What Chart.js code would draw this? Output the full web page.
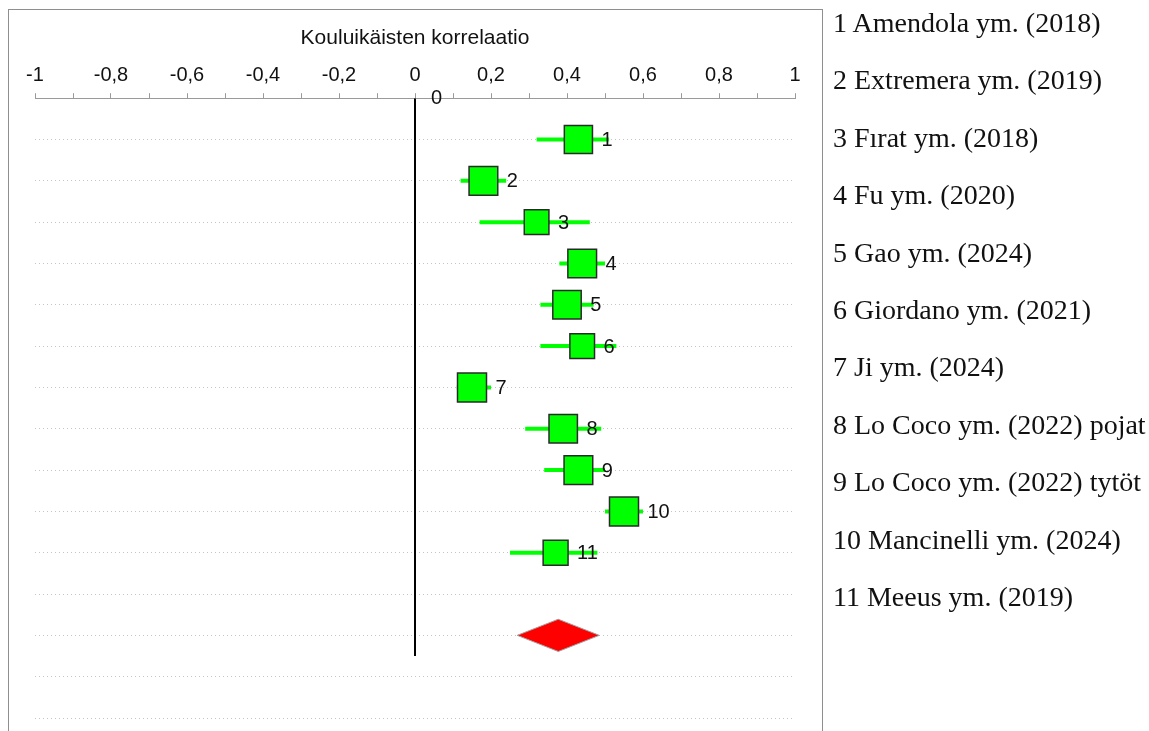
<!DOCTYPE html>
<html>
<head>
<meta charset="utf-8">
<script src="https://cdn.jsdelivr.net/npm/chart.js@4.4.0/dist/chart.umd.min.js"></script>
<style>
    html, body { margin: 0; padding: 0; background: #fff; }
    body { width: 1149px; height: 731px; position: relative; overflow: hidden; }
    #frame { position: absolute; left: 8px; top: 9px; width: 813px; height: 760px; border: 1px solid #8f8f8f; border-bottom: none; }
    #forest { position: absolute; left: 0; top: 0; }
    .legend div { position: absolute; left: 833px; font-family: "Liberation Serif", "Times New Roman", serif; font-size: 28px; line-height: 34px; color: #111; white-space: nowrap; }
</style>
</head>
<body>
<div id="frame"></div>
<canvas id="forest" width="1149" height="731"></canvas>
<div class="legend" id="legend"></div>
<script>
// tutkimukset (rivit 1..11)
const studyNo = ['1', '2', '3', '4', '5', '6', '7', '8', '9', '10', '11'];
const studyNames = [
    'Amendola ym. (2018)', 'Extremera ym. (2019)', 'Fırat ym. (2018)', 'Fu ym. (2020)',
    'Gao ym. (2024)', 'Giordano ym. (2021)', 'Ji ym. (2024)', 'Lo Coco ym. (2022) pojat',
    'Lo Coco ym. (2022) tytöt', 'Mancinelli ym. (2024)', 'Meeus ym. (2019)'
];
const studyEst = [0.43, 0.18, 0.32, 0.44, 0.40, 0.44, 0.15, 0.39, 0.43, 0.55, 0.37];
const studyLo  = [0.32, 0.12, 0.17, 0.38, 0.33, 0.33, 0.11, 0.29, 0.34, 0.50, 0.25];
const studyHi  = [0.51, 0.24, 0.46, 0.50, 0.47, 0.53, 0.20, 0.49, 0.50, 0.60, 0.48];
const studyWeight = [0.97, 0.99, 0.85, 0.99, 0.98, 0.85, 1.0, 0.98, 0.99, 1.0, 0.86];

// yhdistetty estimaatti
const pooledEst = 0.377;
const pooledLo = 0.269;
const pooledHi = 0.485;
const pooledRow = 13;

const xTicks = [-1, -0.8, -0.6, -0.4, -0.2, 0, 0.2, 0.4, 0.6, 0.8, 1];

const boxSide = 29;       // px, suurin neliö
const diamondHalf = 0.39; // riviä

// legenda oikealle
const legendEl = document.getElementById('legend');
studyNames.forEach((name, i) => {
    const d = document.createElement('div');
    d.textContent = studyNo[i] + ' ' + name;
    d.style.top = (23 + i * 57.4 - 17) + 'px';
    legendEl.appendChild(d);
});

const errorSets = studyEst.map((e, i) => ({
    data: [{ x: studyLo[i], y: i + 1 }, { x: studyHi[i], y: i + 1 }],
    showLine: true,
    borderColor: '#00ff00',
    borderWidth: 4,
    pointRadius: 0,
    order: 3
}));

const markLabels = {
    id: 'markLabels',
    afterDatasetsDraw(chart) {
        const { ctx, scales: { x, y } } = chart;
        ctx.save();
        ctx.font = '20px "Liberation Sans", Arial, sans-serif';
        ctx.fillStyle = '#111';
        ctx.textBaseline = 'middle';
        studyNo.forEach((n, i) => {
            const px = x.getPixelForValue(studyEst[i]) + boxSide * studyWeight[i] / 2 + 9;
            ctx.fillText(n, px, y.getPixelForValue(i + 1) + 1);
        });
        ctx.fillText('0', x.getPixelForValue(0) + 16, y.getPixelForValue(0));
        ctx.restore();
    }
};

new Chart(document.getElementById('forest'), {
    type: 'scatter',
    data: {
        datasets: [
            {
                // nollaviiva
                data: [{ x: 0, y: 0 }, { x: 0, y: pooledRow + 0.5 }],
                showLine: true,
                borderColor: '#000',
                borderWidth: 2,
                pointRadius: 0,
                order: 5
            },
            ...errorSets,
            {
                data: studyEst.map((e, i) => ({ x: e, y: i + 1 })),
                pointStyle: 'rect',
                pointRadius: studyWeight.map(w => boxSide * w / Math.SQRT2),
                backgroundColor: '#00ff00',
                borderColor: '#2a2a2a',
                borderWidth: 1.5,
                order: 1
            },
            {
                data: [
                    { x: pooledLo, y: pooledRow },
                    { x: pooledEst, y: pooledRow - diamondHalf },
                    { x: pooledHi, y: pooledRow },
                    { x: pooledEst, y: pooledRow + diamondHalf },
                    { x: pooledLo, y: pooledRow }
                ],
                showLine: true,
                fill: 'shape',
                backgroundColor: '#ff0000',
                borderColor: '#a0a0a0',
                borderWidth: 1,
                tension: 0,
                pointRadius: 0,
                order: 2
            }
        ]
    },
    options: {
        responsive: false,
        animation: false,
        layout: {
            autoPadding: false,
            padding: { left: 35, right: 354, top: 26, bottom: 13 }
        },
        plugins: {
            legend: { display: false },
            tooltip: { enabled: false }
        },
        scales: {
            x: {
                type: 'linear',
                position: 'top',
                min: -1,
                max: 1,
                afterBuildTicks: scale => {
                    // väliviivat 0,1 välein, nimiöt 0,2 välein
                    const t = [];
                    for (let k = -10; k <= 10; k++) t.push({ value: k / 10 });
                    scale.ticks = t;
                },
                ticks: {
                    autoSkip: false,
                    maxRotation: 0,
                    padding: 6,
                    color: '#111',
                    font: { family: '"Liberation Sans", Arial, sans-serif', size: 20 },
                    callback: v => {
                        const hit = xTicks.find(t => Math.abs(t - v) < 1e-6);
                        return hit === undefined ? '' : String(hit).replace('.', ',');
                    }
                },
                grid: {
                    drawOnChartArea: false,
                    drawTicks: true,
                    tickLength: 5,
                    color: '#9a9a9a'
                },
                border: { display: true, color: '#9a9a9a', width: 1 },
                title: {
                    display: true,
                    text: 'Kouluikäisten korrelaatio',
                    color: '#111',
                    font: { family: '"Liberation Sans", Arial, sans-serif', size: 21 },
                    padding: { top: 0, bottom: 6 }
                }
            },
            y: {
                type: 'linear',
                reverse: true,
                min: 0,
                max: 15,
                ticks: { display: false, stepSize: 1 },
                grid: {
                    drawTicks: false,
                    lineWidth: 1,
                    color: c => c.tick && c.tick.value === 0 ? 'rgba(0,0,0,0)' : '#c4c4c4'
                },
                border: { display: false, dash: [1, 3] }
            }
        }
    },
    plugins: [markLabels]
});
</script>
</body>
</html>
